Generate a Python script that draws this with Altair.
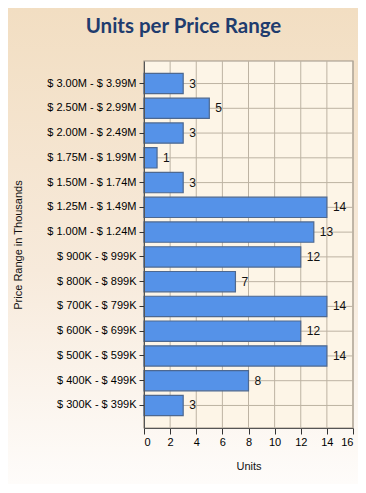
import altair as alt
import pandas as pd

categories = ["$ 3.00M - $ 3.99M", "$ 2.50M - $ 2.99M", "$ 2.00M - $ 2.49M",
              "$ 1.75M - $ 1.99M", "$ 1.50M - $ 1.74M", "$ 1.25M - $ 1.49M",
              "$ 1.00M - $ 1.24M", "$ 900K - $ 999K", "$ 800K - $ 899K",
              "$ 700K - $ 799K", "$ 600K - $ 699K", "$ 500K - $ 599K",
              "$ 400K - $ 499K", "$ 300K - $ 399K"]
units = [3, 5, 3, 1, 3, 14, 13, 12, 7, 14, 12, 14, 8, 3]
x_ticks = [0, 2, 4, 6, 8, 10, 12, 14, 16]

df = pd.DataFrame({"range": categories, "units": units})
ticks_df = pd.DataFrame({"t": x_ticks})

W, H = 209, 367
PL, PT, PR, PB = 136, 53, 5, 56
FONT = "Liberation Sans"
GRID = "#bdb3a3"

bg = alt.Chart(pd.DataFrame({"a": [0]})).mark_rect(
    color=alt.Gradient(gradient="linear", x1=0, y1=0, x2=0, y2=1,
                       stops=[alt.GradientStop(color="#f2dec2", offset=0),
                              alt.GradientStop(color="#f7eadb", offset=0.55),
                              alt.GradientStop(color="#fefcfa", offset=1)])
).encode(x=alt.value(-PL), x2=alt.value(W + PR), y=alt.value(-PT), y2=alt.value(H + PB))

plotbg = alt.Chart(pd.DataFrame({"a": [0]})).mark_rect(
    fill="#fdf5e7", stroke="#9d9387", strokeWidth=1.2).encode(
    x=alt.value(0), x2=alt.value(W), y=alt.value(0), y2=alt.value(H))

xscale = alt.Scale(domain=[0, 16], nice=False)
yscale = alt.Scale(paddingInner=0.18, paddingOuter=0.5)

y_axis = alt.Axis(title="Price Range in Thousands", titleFontSize=11,
                  titleFontWeight="normal", titleFont=FONT, titleColor="#111",
                  titleX=-121, titleY=H / 2, titleAngle=270, titleBaseline="bottom",
                  labelFont=FONT, labelFontSize=11, labelOverlap=False,
                  labelColor="#000", labelPadding=3, tickSize=5,
                  tickColor="#333", domainColor="#555", grid=False, zindex=1)
x_axis = alt.Axis(values=x_ticks, tickCount=9, title="Units", titleFontSize=11,
                  titleFontWeight="normal", titleFont=FONT, titleColor="#111",
                  titlePadding=13, labelFont=FONT, labelFontSize=11,
                  labelOverlap=False, labelColor="#000", tickSize=6,
                  tickColor="#333", domainColor="#555", grid=False, zindex=1)

vgrid = alt.Chart(ticks_df).mark_rule(color=GRID, strokeWidth=1).encode(
    x=alt.X("t:Q", scale=xscale, axis=x_axis), y=alt.value(0), y2=alt.value(H))

hgrid = alt.Chart(df).mark_rule(color=GRID, strokeWidth=1).encode(
    y=alt.Y("range:N", sort=categories, scale=yscale, axis=y_axis),
    x=alt.value(0), x2=alt.value(W))

bars = alt.Chart(df).mark_bar(color="#5592e8", stroke="#4d6890", strokeWidth=1.2).encode(
    y=alt.Y("range:N", sort=categories, scale=yscale, axis=y_axis),
    x=alt.X("units:Q", scale=xscale, axis=x_axis))

labels = alt.Chart(df).mark_text(align="left", dx=6, font=FONT, fontSize=12,
                                 color="#111").encode(
    y=alt.Y("range:N", sort=categories, scale=yscale, axis=y_axis),
    x=alt.X("units:Q", scale=xscale, axis=x_axis), text="units:Q")

chart = alt.layer(bg, plotbg, vgrid, hgrid, bars, labels).properties(
    width=W, height=H,
    title=alt.TitleParams("Units per Price Range", fontSize=20.5, font="Lato",
                          fontWeight="bold", color="#1f3c6e", offset=-29,
                          anchor="middle", frame="group", dx=-65),
    background="#fefcfa",
    autosize=alt.AutoSizeParams(type="none"),
    padding={"left": PL, "top": PT, "right": PR, "bottom": PB},
).configure_view(stroke=None)

chart.save("out.html", embed_options={"renderer": "svg", "actions": False})
